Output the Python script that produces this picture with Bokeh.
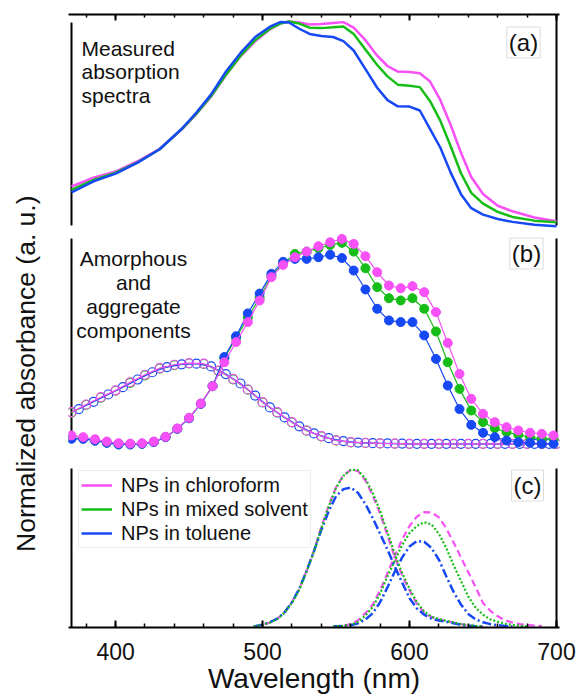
import math
from bokeh.plotting import figure
from bokeh.layouts import row
from bokeh.models import Range1d, LinearAxis, Label, Legend, LegendItem, FixedTicker
from bokeh.embed import file_html
from bokeh.resources import INLINE

# ---------------- data ----------------
# (a) measured absorption spectra, normalized
wl_a = [370, 385, 400, 415, 430, 445, 455, 465, 475, 485, 495, 505, 512, 518, 525,
        532, 540, 548, 555, 562, 570, 578, 585, 592, 600, 607, 614, 621, 628, 635,
        642, 650, 660, 670, 685, 700]
abs_chloroform = [0.203, 0.245, 0.275, 0.325, 0.385, 0.478, 0.553, 0.637, 0.740, 0.832,
                  0.905, 0.962, 0.990, 1.000, 0.995, 0.986, 0.988, 0.993, 0.997, 0.970,
                  0.910, 0.835, 0.785, 0.758, 0.756, 0.750, 0.710, 0.620, 0.500, 0.366,
                  0.249, 0.167, 0.110, 0.083, 0.053, 0.035]
abs_mixed = [0.187, 0.235, 0.270, 0.320, 0.383, 0.480, 0.555, 0.640, 0.742, 0.835,
             0.910, 0.965, 0.990, 1.000, 0.990, 0.970, 0.968, 0.972, 0.976, 0.940,
             0.865, 0.790, 0.735, 0.695, 0.690, 0.683, 0.615, 0.520, 0.397, 0.267,
             0.172, 0.120, 0.080, 0.056, 0.038, 0.030]
abs_toluene = [0.175, 0.228, 0.265, 0.318, 0.383, 0.482, 0.560, 0.648, 0.757, 0.848,
               0.925, 0.975, 0.997, 0.995, 0.965, 0.940, 0.930, 0.925, 0.905, 0.860,
               0.770, 0.680, 0.620, 0.590, 0.589, 0.570, 0.480, 0.390, 0.270, 0.166,
               0.098, 0.067, 0.046, 0.032, 0.018, 0.011]

# (b) aggregate components (filled markers)
wl_agg = list(range(370, 699, 8))
agg_chloroform = [0.053, 0.045, 0.035, 0.024, 0.016, 0.014, 0.016, 0.024, 0.047, 0.087,
                  0.138, 0.207, 0.290, 0.405, 0.502, 0.598, 0.702, 0.814, 0.873, 0.910,
                  0.937, 0.963, 0.982, 0.998, 0.974, 0.915, 0.838, 0.774, 0.761, 0.771,
                  0.742, 0.646, 0.498, 0.349, 0.229, 0.157, 0.117, 0.093, 0.077, 0.066,
                  0.061, 0.053]
agg_mixed = [0.040, 0.038, 0.029, 0.018, 0.010, 0.010, 0.013, 0.022, 0.045, 0.085,
             0.136, 0.205, 0.290, 0.425, 0.522, 0.620, 0.715, 0.820, 0.880, 0.926,
             0.937, 0.953, 0.969, 0.979, 0.937, 0.857, 0.766, 0.713, 0.702, 0.713,
             0.662, 0.553, 0.405, 0.277, 0.173, 0.117, 0.088, 0.069, 0.056, 0.045,
             0.037, 0.037]
agg_toluene = [0.037, 0.037, 0.028, 0.018, 0.010, 0.010, 0.013, 0.021, 0.045, 0.085,
               0.136, 0.205, 0.290, 0.430, 0.530, 0.640, 0.735, 0.830, 0.888, 0.902,
               0.902, 0.910, 0.922, 0.906, 0.846, 0.755, 0.662, 0.606, 0.598, 0.598,
               0.534, 0.421, 0.293, 0.180, 0.104, 0.066, 0.045, 0.029, 0.021, 0.018,
               0.013, 0.013]

# (b) amorphous components (open markers)
wl_amor = list(range(370, 701, 10))
amor_chloroform = [0.165, 0.202, 0.237, 0.270, 0.309, 0.345, 0.377, 0.393, 0.401, 0.398,
                   0.365, 0.325, 0.274, 0.213, 0.165, 0.117, 0.077, 0.050, 0.029, 0.021,
                   0.017, 0.015, 0.014, 0.013, 0.013, 0.013, 0.013, 0.013, 0.013, 0.013,
                   0.013, 0.013, 0.013, 0.013]
amor_mixed = [0.163, 0.200, 0.235, 0.268, 0.306, 0.342, 0.374, 0.391, 0.399, 0.397,
              0.364, 0.323, 0.273, 0.212, 0.163, 0.116, 0.076, 0.049, 0.029, 0.020,
              0.017, 0.015, 0.014, 0.013, 0.013, 0.013, 0.013, 0.013, 0.013, 0.013,
              0.013, 0.013, 0.013, 0.013]
wl_amor_tol = list(range(375, 696, 10))
amor_toluene = [0.180, 0.215, 0.250, 0.285, 0.322, 0.357, 0.382, 0.395, 0.398, 0.385,
                0.348, 0.303, 0.245, 0.188, 0.140, 0.097, 0.063, 0.040, 0.026, 0.019,
                0.016, 0.015, 0.014, 0.013, 0.013, 0.013, 0.013, 0.013, 0.013, 0.013,
                0.013, 0.013, 0.013]

# (c) fitted aggregate bands: 0-0 and 0-1 components
wl_c1 = [494, 500, 505, 510, 515, 520, 525, 530, 535, 540, 545, 550, 555, 560, 565, 570,
         575, 580, 585, 590, 595, 600, 605, 610, 615, 620, 625, 630, 635, 640, 645, 650]
c1_chloroform = [0.0, 0.010, 0.025, 0.049, 0.091, 0.155, 0.240, 0.357, 0.484, 0.633,
                 0.771, 0.887, 0.962, 0.998, 0.990, 0.930, 0.834, 0.718, 0.580, 0.441,
                 0.325, 0.229, 0.145, 0.087, 0.060, 0.045, 0.035, 0.025, 0.015, 0.008,
                 0.003, 0.0]
c1_mixed = [0.0, 0.010, 0.024, 0.047, 0.088, 0.150, 0.235, 0.350, 0.478, 0.625,
            0.765, 0.882, 0.960, 0.998, 0.995, 0.940, 0.850, 0.735, 0.600, 0.460,
            0.340, 0.240, 0.155, 0.095, 0.063, 0.047, 0.036, 0.026, 0.016, 0.009,
            0.004, 0.0]
c1_toluene = [0.0, 0.012, 0.027, 0.050, 0.090, 0.155, 0.240, 0.355, 0.480, 0.615,
              0.735, 0.830, 0.875, 0.885, 0.850, 0.780, 0.690, 0.590, 0.490, 0.380,
              0.280, 0.180, 0.115, 0.075, 0.050, 0.038, 0.030, 0.020, 0.012, 0.005,
              0.002, 0.0]
wl_c2 = [548, 555, 560, 565, 570, 575, 580, 585, 590, 595, 600, 605, 610, 615, 620,
         625, 630, 635, 640, 645, 650, 655, 660, 665, 670, 675, 680, 685, 690]
c2_chloroform = [0.0, 0.005, 0.015, 0.040, 0.085, 0.140, 0.230, 0.340, 0.450, 0.555,
                 0.640, 0.700, 0.728, 0.726, 0.695, 0.625, 0.535, 0.440, 0.345, 0.250,
                 0.150, 0.100, 0.065, 0.040, 0.025, 0.015, 0.010, 0.006, 0.003]
wl_c2_mix = wl_c2[:27]
c2_mixed = [0.0, 0.004, 0.010, 0.030, 0.070, 0.125, 0.210, 0.320, 0.420, 0.520,
            0.595, 0.640, 0.664, 0.650, 0.590, 0.500, 0.390, 0.290, 0.190, 0.120,
            0.075, 0.045, 0.030, 0.018, 0.010, 0.005, 0.0]
wl_c2_tol = wl_c2[:25]
c2_toluene = [0.0, 0.003, 0.008, 0.020, 0.045, 0.085, 0.155, 0.250, 0.350, 0.440,
              0.510, 0.545, 0.540, 0.500, 0.425, 0.320, 0.220, 0.140, 0.080, 0.045,
              0.027, 0.015, 0.008, 0.004, 0.0]

labels = ["NPs in chloroform", "NPs in mixed solvent", "NPs in toluene"]
y_title = "Normalized absorbance (a. u.)"
x_ticks = [400, 500, 600, 700]
x_minor = list(range(380, 701, 20))

# ---------------- layout ----------------
MAG, GRN, BLU = "#f650f6", "#17bd17", "#1648f4"
FONT = "Liberation Sans"
W, H = 579, 698
LW = 60                                     # strip holding the y title
FL, FR, FT, FB = 68, 559, 14, 627          # frame edges on the page (px)
X0_PX, X1_PX = 71, 556                      # where 370 nm and 700 nm sit
ppn = (X1_PX - X0_PX) / (700 - 370)
x_range = Range1d(370 - (X0_PX - FL) / ppn, 700 + (FR - X1_PX) / ppn)

p = figure(width=W - LW, height=H, x_range=x_range, y_range=Range1d(0, 1),
           output_backend="svg", toolbar_location=None,
           x_axis_location=None, y_axis_location=None,
           min_border_left=FL - LW, min_border_right=W - FR,
           min_border_top=FT, min_border_bottom=H - FB)
p.outline_line_color = None
p.grid.visible = False
p.xgrid.visible = False
p.ygrid.visible = False


def band(bottom_px, top_px):
    """y range that puts 0 at bottom_px and 1 at top_px inside the shared frame."""
    f0 = (FB - bottom_px) / (FB - FT)
    f1 = (FB - top_px) / (FB - FT)
    span = 1.0 / (f1 - f0)
    start = -f0 * span
    return Range1d(start, start + span)


p.extra_y_ranges = {"a": band(228, 21), "b": band(446, 238), "c": band(626, 469)}


def fy(px):
    return (FB - px) / (FB - FT)


# panel frame lines
spines = [(370, 22, 225), (700, 14, 225), (370, 238, 434), (700, 238, 434),
          (370, 468, FB), (700, 468, FB)]
p.segment(x0=[s[0] for s in spines], x1=[s[0] for s in spines],
          y0=[fy(s[1]) for s in spines], y1=[fy(s[2]) for s in spines],
          line_color="black", line_width=2)

ticker = FixedTicker(ticks=x_ticks, minor_ticks=x_minor)
xb = LinearAxis(ticker=ticker, axis_label="Wavelength (nm)")
xb.axis_line_width = 2
xb.major_tick_in, xb.major_tick_out = 7, 0
xb.minor_tick_in, xb.minor_tick_out = 4, 0
xb.major_tick_line_width = 2
xb.minor_tick_line_width = 1.5
xb.major_label_text_font = FONT
xb.major_label_text_font_size = "23px"
xb.major_label_text_color = "#111111"
xb.major_label_standoff = 15
xb.axis_label_text_font = FONT
xb.axis_label_text_font_size = "28px"
xb.axis_label_text_font_style = "normal"
xb.axis_label_text_color = "#111111"
xb.axis_label_standoff = 0
p.add_layout(xb, "below")

xt = LinearAxis(ticker=ticker)
xt.axis_line_width = 2
xt.major_tick_in, xt.major_tick_out = 6, 0
xt.minor_tick_in, xt.minor_tick_out = 3, 0
xt.major_tick_line_width = 2
xt.minor_tick_line_width = 1.5
xt.major_label_text_font_size = "0px"
xt.major_label_text_color = None
xt.major_label_standoff = 0
p.add_layout(xt, "above")

colors = [MAG, GRN, BLU]

# (a)
rend_a = []
for ys, c in zip([abs_chloroform, abs_mixed, abs_toluene], colors):
    rend_a.append(p.line(wl_a, ys, y_range_name="a", line_color=c, line_width=2.5))

# (b)
for xs, ys, c in zip([wl_amor, wl_amor_tol, wl_amor],
                     [amor_mixed, amor_toluene, amor_chloroform], [GRN, BLU, MAG]):
    p.line(xs, ys, y_range_name="b", line_color=c, line_width=1.2)
    p.scatter(xs, ys, y_range_name="b", marker="circle", size=9,
              fill_color=None, line_color=c, line_width=1.2)
for ys, c in zip([agg_mixed, agg_toluene, agg_chloroform], [GRN, BLU, MAG]):
    p.line(wl_agg, ys, y_range_name="b", line_color=c, line_width=1.2)
    p.scatter(wl_agg, ys, y_range_name="b", marker="circle", size=9,
              fill_color=c, line_color=c)

# (c)
styles = {MAG: dict(line_dash="7 4", line_width=2.2),
          GRN: dict(line_dash="2 2", line_width=2.2),
          BLU: dict(line_dash="9 3 2 3", line_width=2.5)}
for xs, ys, c in [(wl_c1, c1_chloroform, MAG), (wl_c2, c2_chloroform, MAG),
                  (wl_c1, c1_toluene, BLU), (wl_c2_tol, c2_toluene, BLU),
                  (wl_c1, c1_mixed, GRN), (wl_c2_mix, c2_mixed, GRN)]:
    p.line(xs, ys, y_range_name="c", line_color=c, **styles[c])

legend = Legend(items=[LegendItem(label=l, renderers=[r]) for l, r in zip(labels, rend_a)],
                location=(10, 79), label_text_font=FONT, label_text_font_size="20px",
                label_text_color="#111111",
                glyph_width=31, glyph_height=24, label_height=24, label_standoff=9,
                spacing=0, padding=2, margin=0, border_line_color="#dddddd",
                border_line_width=1, background_fill_color="white",
                background_fill_alpha=1.0)
p.add_layout(legend, "center")


def put(text, cx, cy, size="20px", align="left", baseline="alphabetic", **kw):
    p.add_layout(Label(x=cx - FL, y=FB - cy, x_units="screen", y_units="screen",
                       text=text, text_font=FONT, text_font_size=size,
                       text_color="#111111", text_align=align,
                       text_baseline=baseline, **kw))


for t, cy in zip(["Measured", "absorption", "spectra"], [48, 71, 95]):
    put(t, 81, cy, size="21px")
for t, cy in zip(["Amorphous", "and", "aggregate", "components"], [258, 282, 306, 330]):
    put(t, 133, cy, size="21px", align="center")
for t, cx, cy in [("(a)", 523, 42), ("(b)", 526, 253), ("(c)", 527, 485)]:
    put(t, cx, cy, size="24px", align="center", baseline="middle",
        background_fill_color="white", border_line_color="#dcdcdc",
        border_line_width=1, padding=2)

# strip on the left carrying the shared y title
ty = figure(width=LW, height=H, x_range=Range1d(0, LW), y_range=Range1d(0, H),
            output_backend="svg", toolbar_location=None,
            x_axis_location=None, y_axis_location=None,
            min_border_left=0, min_border_right=0, min_border_top=0, min_border_bottom=0)
ty.outline_line_color = None
ty.grid.visible = False
ty.text(x=[25], y=[H - 409], text=[y_title], angle=math.pi / 2,
        text_font={"value": FONT}, text_font_size={"value": "26.5px"},
        text_color="#111111", text_align="center", text_baseline="middle")

layout = row(ty, p, spacing=0)
open("out.html", "w").write(file_html(layout, INLINE))
